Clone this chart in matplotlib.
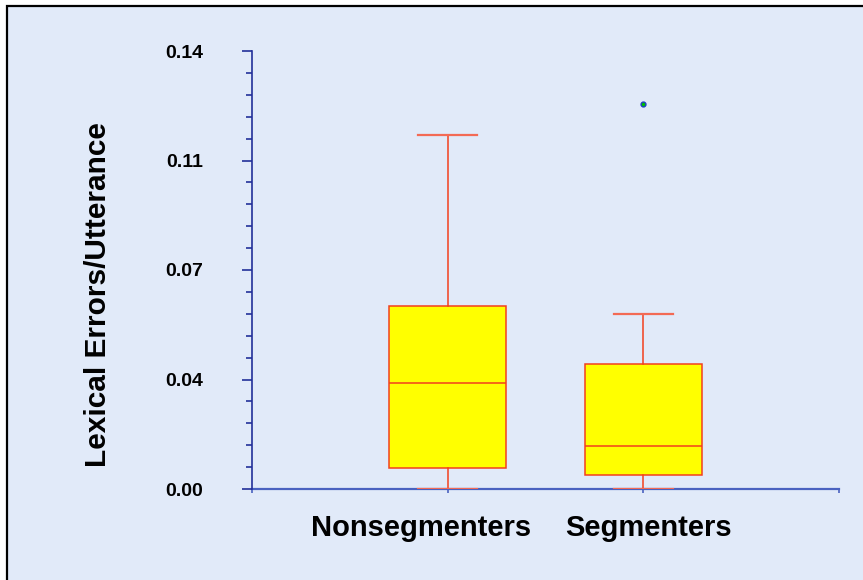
import matplotlib
matplotlib.use('Agg')
import matplotlib.pyplot as plt
import matplotlib.transforms as mtransforms
from matplotlib.patches import Rectangle
from matplotlib.ticker import MultipleLocator, FixedLocator

plt.rcParams['font.family'] = ['Liberation Sans', 'DejaVu Sans']

# ── Datos ───────────────────────────────────────────────────────────────────
groups = ['Nonsegmenters', 'Segmenters']
whisker_low = [0.0, 0.0]
q1 = [0.0066, 0.0045]
median = [0.0339, 0.0138]
q3 = [0.0585, 0.0400]
whisker_high = [0.1131, 0.0560]
outliers = [[], [0.1230]]
y_ticks = [0.0, 0.035, 0.07, 0.105, 0.14]
y_tick_labels = ['0.00', '0.04', '0.07', '0.11', '0.14']

BG = '#E1EAF9'
BOX_EDGE = '#F2401E'
AXIS_BLUE = '#23309A'

fig = plt.figure(figsize=(8.63, 5.80), dpi=100, facecolor='white')
# marco de fondo
fig.patches.append(Rectangle((7 / 863, -0.01), 1.0, (580 - 6) / 580 + 0.01,
                             transform=fig.transFigure, facecolor=BG,
                             edgecolor='black', linewidth=1.6, zorder=-10))

ax = fig.add_axes([252 / 863, 91 / 580, (839 - 252) / 863, (489 - 51) / 580])
ax.set_facecolor('none')
ax.set_zorder(1)

stats = []
for i, name in enumerate(groups):
    stats.append(dict(label=name, whislo=whisker_low[i], q1=q1[i], med=median[i],
                      q3=q3[i], whishi=whisker_high[i], fliers=outliers[i]))

ax.bxp(stats, positions=[1, 2], widths=0.6, capwidths=0.3, patch_artist=True,
       boxprops=dict(facecolor='#FFFF00', edgecolor=BOX_EDGE, linewidth=1.1),
       medianprops=dict(color=BOX_EDGE, linewidth=1.1),
       whiskerprops=dict(color=BOX_EDGE, linewidth=1.1),
       capprops=dict(color='#F36A55', linewidth=1.6),
       flierprops=dict(marker='o', markersize=3.5, markerfacecolor='#00C000',
                       markeredgecolor='#2040C0', markeredgewidth=1.0))

ax.set_xlim(0, 3)
ax.set_ylim(0, 0.14)

for s in ['top', 'right']:
    ax.spines[s].set_visible(False)
ax.spines['left'].set_color(AXIS_BLUE)
ax.spines['left'].set_linewidth(1.2)
ax.spines['bottom'].set_color('#4A62C0')
ax.spines['bottom'].set_linewidth(1.6)
ax.spines['bottom'].set_zorder(0.5)

ax.yaxis.set_major_locator(FixedLocator(y_ticks))
ax.set_yticklabels(y_tick_labels)
ax.yaxis.set_minor_locator(MultipleLocator(0.007))
ax.tick_params(axis='y', which='major', length=7, width=1.2, color=AXIS_BLUE,
               pad=28, labelsize=14)
ax.tick_params(axis='y', which='minor', length=4, width=1.2, color=AXIS_BLUE)
for lbl in ax.get_yticklabels():
    lbl.set_fontweight('bold')

ax.set_xticks([0, 1, 2, 3])
ax.set_xticklabels(['', groups[0], groups[1], ''])
ax.tick_params(axis='x', which='major', length=3, width=1.2, color='#4A62C0',
               pad=15, labelsize=21)
shifts = [0, -27, 5, 0]
for lbl, dx in zip(ax.get_xticklabels(), shifts):
    lbl.set_fontweight('bold')
    lbl.set_transform(lbl.get_transform() +
                      mtransforms.ScaledTranslation(dx / 100, 0, fig.dpi_scale_trans))

ax.set_ylabel('Lexical Errors/Utterance', fontsize=21.5, fontweight='bold')
ax.yaxis.set_label_coords(-0.2385, 0.444)

fig.savefig('out.png', dpi=100, facecolor='white')
